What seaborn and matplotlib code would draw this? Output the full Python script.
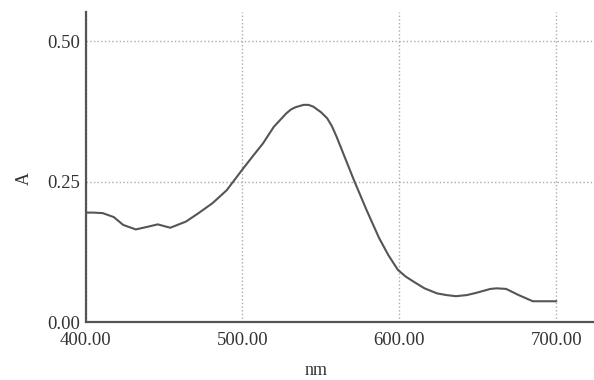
import matplotlib
matplotlib.use("Agg")
import matplotlib.pyplot as plt
import seaborn as sns
import pandas as pd

# Espectro de absorção
comprimento_onda = [400, 405, 411, 418, 424, 432, 440, 446, 454, 464, 472, 481, 490,
                    500, 507, 513, 520, 528, 531, 534, 539, 542, 545, 550, 554, 557,
                    560, 565, 571, 579, 587, 593, 599, 604, 609, 616, 624, 630, 636,
                    643, 649, 658, 662, 668, 676, 685, 700]
absorbancia = [0.195, 0.195, 0.194, 0.187, 0.173, 0.165, 0.170, 0.174, 0.168, 0.179,
               0.194, 0.212, 0.235, 0.272, 0.297, 0.318, 0.348, 0.372, 0.379, 0.383,
               0.387, 0.387, 0.384, 0.374, 0.363, 0.349, 0.330, 0.295, 0.253, 0.200,
               0.150, 0.119, 0.093, 0.081, 0.072, 0.060, 0.051, 0.048, 0.046, 0.048,
               0.052, 0.059, 0.060, 0.059, 0.048, 0.037, 0.037]
x_ticks = [400, 500, 600, 700]
y_ticks = [0.00, 0.25, 0.50]

df = pd.DataFrame({'nm': comprimento_onda, 'A': absorbancia})

sns.set_style("white")
plt.rcParams['font.family'] = ['Liberation Serif', 'DejaVu Serif']

fig = plt.figure(figsize=(5.94, 3.80), dpi=100)
ax = fig.add_axes([0.144, 0.1526, 0.856, 0.8166])

sns.lineplot(data=df, x='nm', y='A', ax=ax, color='#555555', linewidth=1.5)

ax.set_xlim(400, 724)
ax.set_ylim(0, 0.553)
ax.set_xticks(x_ticks)
ax.set_xticklabels([f"{v:.2f}" for v in x_ticks])
ax.set_yticks(y_ticks)
ax.set_yticklabels([f"{v:.2f}" for v in y_ticks])

ax.grid(True, linestyle=':', color='#aaaaaa', linewidth=1.0)
ax.tick_params(direction='in', length=5, width=1, colors='#555555',
               labelcolor='#333333', labelsize=13.5)
ax.tick_params(axis='x', pad=7)
ax.tick_params(axis='y', pad=4)

for lado in ['top', 'right']:
    ax.spines[lado].set_visible(False)
for lado in ['left', 'bottom']:
    ax.spines[lado].set_color('#555555')
    ax.spines[lado].set_linewidth(1.6)

ax.set_xlabel('nm', fontsize=13, color='#333333')
ax.set_ylabel('A', fontsize=13, color='#333333')
ax.xaxis.set_label_coords(0.453, -0.13)
ax.yaxis.set_label_coords(-0.103, 0.464)

fig.savefig('out.png', dpi=100)
plt.close(fig)
